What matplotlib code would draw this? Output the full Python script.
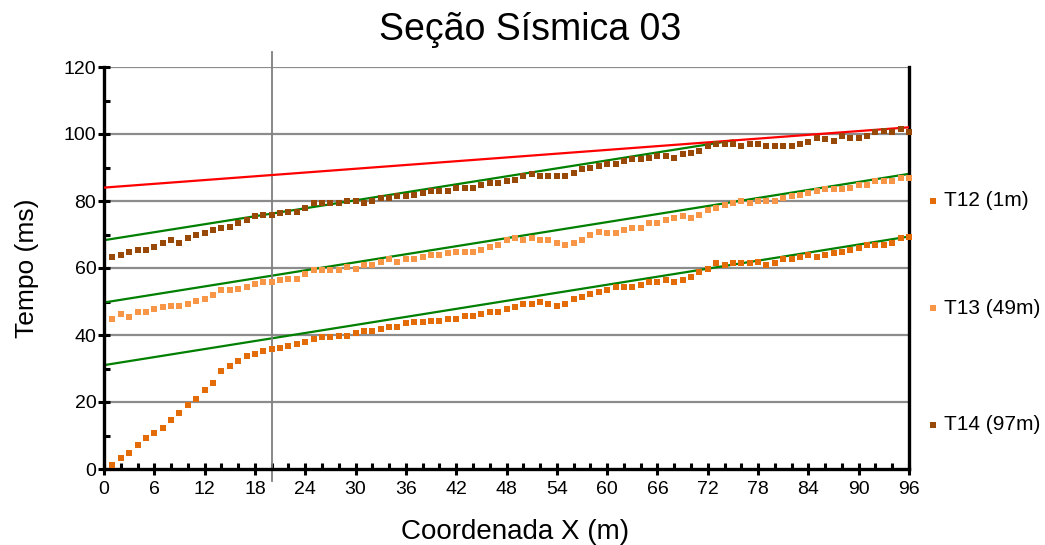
import numpy as np
import matplotlib
matplotlib.use("Agg")
import matplotlib.pyplot as plt
from matplotlib.lines import Line2D
from matplotlib.ticker import MultipleLocator

# Travel times (ms) per geophone position, three shot points
x_pos = np.arange(1, 97)

t12 = [1.2, 3.4, 4.8, 7.3, 9.3, 10.7, 12.3, 14.7, 16.8, 19.1,
       20.9, 23.7, 25.8, 29.3, 30.8, 32.3, 33.8, 34.4, 35.3, 35.9,
       36.2, 36.8, 37.4, 38.0, 38.9, 39.5, 39.5, 39.8, 39.8, 40.7,
       41.3, 41.3, 41.9, 42.5, 42.5, 43.5, 44.0, 44.0, 44.3, 44.3,
       44.9, 44.9, 45.8, 45.8, 46.4, 47.0, 47.0, 47.9, 48.5, 49.3,
       49.3, 49.9, 49.3, 48.7, 49.3, 50.8, 51.4, 52.3, 52.9, 53.5,
       54.4, 54.4, 54.4, 55.0, 55.9, 55.9, 56.5, 55.9, 56.5, 57.4,
       58.9, 59.8, 61.6, 61.0, 61.6, 61.6, 61.6, 61.9, 61.0, 61.6,
       62.8, 62.8, 63.4, 64.0, 63.4, 64.0, 64.6, 64.9, 65.5, 66.1,
       67.0, 67.0, 67.0, 67.6, 69.0, 69.3]

t13 = [44.9, 46.4, 45.5, 47.0, 47.0, 47.9, 48.5, 48.7, 48.7, 49.3,
       50.2, 50.8, 52.0, 53.5, 53.5, 53.8, 54.4, 55.3, 55.9, 55.9,
       56.5, 56.8, 56.8, 58.3, 59.5, 59.5, 59.5, 59.5, 60.4, 59.8,
       61.0, 61.0, 61.7, 62.8, 61.7, 62.8, 62.8, 63.4, 64.0, 64.0,
       64.6, 64.9, 64.9, 64.9, 65.5, 66.4, 67.0, 68.4, 69.0, 68.4,
       69.0, 68.4, 68.4, 67.6, 67.0, 67.6, 68.4, 69.9, 70.8, 70.5,
       70.5, 71.4, 72.0, 72.0, 73.5, 73.5, 74.4, 75.0, 75.6, 75.0,
       75.9, 77.4, 78.0, 78.9, 79.5, 80.1, 79.5, 80.1, 80.1, 80.1,
       81.0, 81.6, 81.9, 82.5, 83.1, 83.7, 83.7, 83.7, 84.0, 84.9,
       84.9, 86.1, 86.1, 86.1, 86.9, 86.9]

t14 = [63.4, 64.0, 64.9, 65.5, 65.5, 66.4, 67.6, 68.4, 67.6, 69.0,
       69.9, 70.5, 71.4, 72.0, 72.3, 73.5, 74.4, 75.6, 75.9, 75.9,
       76.5, 76.8, 76.8, 78.0, 79.5, 79.5, 79.5, 79.5, 80.1, 80.1,
       79.5, 80.1, 81.0, 81.0, 81.6, 81.6, 81.9, 82.5, 83.1, 83.1,
       83.1, 84.0, 84.0, 84.0, 84.9, 85.5, 85.5, 86.1, 86.4, 87.6,
       88.1, 87.6, 87.6, 87.6, 87.6, 88.4, 89.6, 89.9, 90.5, 91.1,
       91.1, 92.0, 92.6, 92.6, 92.9, 93.5, 93.5, 92.9, 94.1, 94.4,
       95.0, 96.5, 97.1, 97.1, 97.1, 96.5, 97.1, 97.1, 96.5, 96.5,
       96.5, 96.5, 97.1, 97.7, 98.9, 98.6, 98.0, 99.5, 98.9, 98.9,
       99.5, 100.7, 101.0, 100.7, 101.6, 100.7]

labels = ["T12 (1m)", "T13 (49m)", "T14 (97m)"]
colors = ["#E36C09", "#F79646", "#984807"]

# Fitted lines: (x start, x end, intercept, slope)
green_fits = [(0, 96, 31.0, 0.40), (0, 96, 49.7, 0.40), (0, 75, 68.3, 0.397)]
red_fit = (0, 96, 84.0, 0.1875)

plt.rcParams["font.family"] = ["Liberation Sans", "DejaVu Sans"]

fig = plt.figure(figsize=(10.45, 5.45), dpi=100)
ax = fig.add_axes([104 / 1045, 1 - 469 / 545, 805 / 1045, 402 / 545])

for yv in range(20, 121, 20):
    ax.axhline(yv, color="#8c8c8c", lw=1.6, zorder=1)

for (x0, x1, b, m) in green_fits:
    xs = np.array([x0, x1])
    ax.plot(xs, b + m * xs, color="#008000", lw=1.6, zorder=2)
xs = np.array([red_fit[0], red_fit[1]])
ax.plot(xs, red_fit[2] + red_fit[3] * xs, color="#FF0000", lw=1.6, zorder=3)

for series, c in zip([t12, t13, t14], colors):
    ax.plot(x_pos, series, ls="none", marker="s", ms=4.6, mew=0, mfc=c,
            zorder=4, clip_on=False)

# marker line at x = 20 m running past the frame
ax.plot([20, 20], [-3.5, 124.5], color="#7f7f7f", lw=1.3, zorder=2,
        clip_on=False)

ax.set_xlim(0, 96)
ax.set_ylim(0, 120)
ax.xaxis.set_major_locator(MultipleLocator(6))
ax.xaxis.set_minor_locator(MultipleLocator(2))
ax.yaxis.set_major_locator(MultipleLocator(20))
ax.yaxis.set_minor_locator(MultipleLocator(10))
ax.tick_params(which="major", direction="inout", length=9, width=2.2,
               labelsize=14, color="black")
ax.tick_params(which="minor", direction="in", length=4, width=2.2,
               color="black")
ax.tick_params(axis="x", pad=4)
ax.tick_params(axis="y", pad=1)

for side in ["left", "bottom", "right"]:
    ax.spines[side].set_linewidth(2.4)
    ax.spines[side].set_color("black")
ax.spines["top"].set_visible(False)

fig.text(530 / 1045, 1 - 30 / 545, "Seção Sísmica 03", fontsize=27,
         ha="center", va="center")
fig.text(515 / 1045, 1 - 532 / 545, "Coordenada X (m)", fontsize=20,
         ha="center", va="center")
fig.text(27 / 1045, 1 - 268 / 545, "Tempo (ms)", fontsize=19,
         ha="center", va="center", rotation=90)

# legend entries spread down the right margin
legend_y = [201, 308, 425]
for lab, c, py in zip(labels, colors, legend_y):
    fy = 1 - py / 545
    fig.add_artist(Line2D([933 / 1045], [fy], marker="s", ms=4.6, mew=0,
                          mfc=c, ls="none", transform=fig.transFigure))
    fig.text(944 / 1045, fy, lab, fontsize=15, va="center", ha="left")

fig.savefig("out.png", dpi=100)
